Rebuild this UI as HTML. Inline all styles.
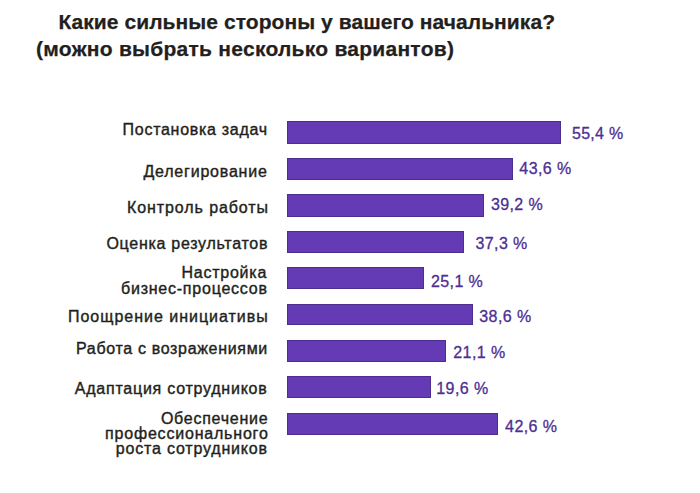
<!DOCTYPE html>
<html><head><meta charset="utf-8"><style>
html,body{margin:0;padding:0;background:#fff;width:700px;height:493px;overflow:hidden;position:relative}
.t{position:absolute;white-space:nowrap;font-family:"Liberation Sans",sans-serif;}
.ti{font-weight:bold;font-size:21px;line-height:21px;color:#231f20;-webkit-text-stroke:0.25px #231f20;}
.lb{font-weight:normal;font-size:16px;line-height:16px;color:#231f20;-webkit-text-stroke:0.4px #231f20;}
.pc{font-weight:normal;font-size:16px;line-height:16px;color:#4d2e93;-webkit-text-stroke:0.3px #4d2e93;}
.b{position:absolute;background:#653ab5;box-shadow:inset 0 0 0 1px #4b2e90;}
</style></head><body>
<div id="t1" class="t ti" style="left:58.40px;top:11.22px;letter-spacing:0.063px">Какие сильные стороны у вашего начальника?</div>
<div id="t2" class="t ti" style="left:36.10px;top:38.42px;letter-spacing:0.259px">(можно выбрать несколько вариантов)</div>
<div id="l1" class="t lb" style="left:122.60px;top:122.46px;letter-spacing:0.713px">Постановка задач</div>
<div id="l2" class="t lb" style="left:143.40px;top:164.16px;letter-spacing:0.800px">Делегирование</div>
<div id="l3" class="t lb" style="left:127.00px;top:200.46px;letter-spacing:0.914px">Контроль работы</div>
<div id="l4" class="t lb" style="left:106.40px;top:236.46px;letter-spacing:0.724px">Оценка результатов</div>
<div id="l5a" class="t lb" style="left:181.40px;top:264.86px;letter-spacing:0.775px">Настройка</div>
<div id="l5b" class="t lb" style="left:121.00px;top:280.96px;letter-spacing:0.767px">бизнес-процессов</div>
<div id="l6" class="t lb" style="left:68.00px;top:308.76px;letter-spacing:0.984px">Поощрение инициативы</div>
<div id="l7" class="t lb" style="left:76.00px;top:340.56px;letter-spacing:0.670px">Работа с возражениями</div>
<div id="l8" class="t lb" style="left:74.80px;top:381.16px;letter-spacing:0.760px">Адаптация сотрудников</div>
<div id="l9a" class="t lb" style="left:160.90px;top:411.46px;letter-spacing:0.740px">Обеспечение</div>
<div id="l9b" class="t lb" style="left:105.10px;top:426.46px;letter-spacing:0.800px">профессионального</div>
<div id="l9c" class="t lb" style="left:115.80px;top:440.96px;letter-spacing:0.813px">роста сотрудников</div>
<div id="p1" class="t pc" style="left:572.10px;top:125.96px;letter-spacing:0.240px">55,4 %</div>
<div id="p2" class="t pc" style="left:519.30px;top:161.16px;letter-spacing:0.440px">43,6 %</div>
<div id="p3" class="t pc" style="left:490.90px;top:197.46px;letter-spacing:0.400px">39,2 %</div>
<div id="p4" class="t pc" style="left:475.50px;top:235.86px;letter-spacing:0.400px">37,3 %</div>
<div id="p5" class="t pc" style="left:431.00px;top:274.06px;letter-spacing:0.400px">25,1 %</div>
<div id="p6" class="t pc" style="left:479.30px;top:309.26px;letter-spacing:0.400px">38,6 %</div>
<div id="p7" class="t pc" style="left:453.30px;top:344.86px;letter-spacing:0.400px">21,1 %</div>
<div id="p8" class="t pc" style="left:436.30px;top:380.66px;letter-spacing:0.400px">19,6 %</div>
<div id="p9" class="t pc" style="left:505.10px;top:419.26px;letter-spacing:0.400px">42,6 %</div>
<div class="b" style="left:287px;top:121.00px;width:274.00px;height:23.00px"></div>
<div class="b" style="left:287px;top:158.00px;width:226.00px;height:22.00px"></div>
<div class="b" style="left:287px;top:194.00px;width:197.00px;height:23.00px"></div>
<div class="b" style="left:287px;top:230.50px;width:177.00px;height:22.00px"></div>
<div class="b" style="left:287px;top:267.00px;width:137.00px;height:22.00px"></div>
<div class="b" style="left:287px;top:303.70px;width:186.30px;height:21.80px"></div>
<div class="b" style="left:287px;top:340.00px;width:159.00px;height:21.80px"></div>
<div class="b" style="left:287px;top:376.20px;width:144.30px;height:21.80px"></div>
<div class="b" style="left:287px;top:413.00px;width:210.80px;height:21.80px"></div>
</body></html>
